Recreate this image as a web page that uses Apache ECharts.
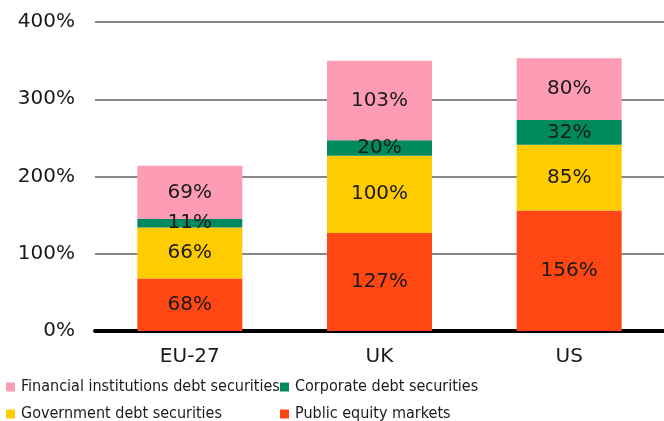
<!DOCTYPE html>
<html>
<head>
<meta charset="utf-8">
<script src="https://cdn.jsdelivr.net/npm/echarts@6/dist/echarts.min.js"></script>
<style>
  html, body { margin: 0; padding: 0; background: #fff; }
  #chart { width: 664px; height: 421px; }
</style>
</head>
<body>
<div id="chart"></div>
<script>
// data
const regions = ['EU-27', 'UK', 'US']
const publicEquity = [68, 127, 156]
const governmentDebt = [66, 100, 85]
const corporateDebt = [11, 20, 32]
const financialDebt = [69, 103, 80]
const yTicks = [0, 100, 200, 300, 400]

const numFont = '"DejaVu Sans", sans-serif'
const legendFont = '"DejaVu Sans Condensed", "DejaVu Sans", sans-serif'

const chart = echarts.init(document.getElementById('chart'))

const mkSeries = (name, data, color) => ({
  name: name,
  type: 'bar',
  stack: 'total',
  data: data,
  barWidth: 105,
  itemStyle: { color: color },
  label: {
    show: true,
    position: 'inside',
    formatter: '{c}%',
    color: '#1a1a1a',
    fontSize: 20,
    fontFamily: numFont
  }
})

const mkLegend = (name, left, top) => ({
  data: [name],
  left: left,
  top: top,
  itemWidth: 9,
  itemHeight: 9,
  itemGap: 0,
  icon: 'rect',
  textStyle: { fontSize: 16, color: '#1a1a1a', fontFamily: legendFont, padding: [0, 0, 0, 1] },
  selectedMode: false
})

const option = {
  animation: false,
  grid: { left: 95, right: -1, top: 22, bottom: 90 },
  legend: [
    mkLegend('Financial institutions debt securities', 1, 374),
    mkLegend('Corporate debt securities', 275, 374),
    mkLegend('Government debt securities', 1, 401),
    mkLegend('Public equity markets', 275, 401)
  ],
  xAxis: {
    type: 'category',
    data: regions,
    axisLine: { lineStyle: { color: '#000', width: 4 } },
    axisTick: { show: false },
    axisLabel: { fontSize: 20, color: '#1a1a1a', fontFamily: numFont, margin: 16 }
  },
  yAxis: {
    type: 'value',
    min: yTicks[0],
    max: yTicks[yTicks.length - 1],
    interval: 100,
    axisLine: { show: false },
    axisTick: { show: false },
    splitLine: { lineStyle: { color: '#888', width: 2 } },
    axisLabel: {
      fontSize: 20,
      color: '#1a1a1a',
      fontFamily: numFont,
      margin: 20,
      formatter: '{value}%'
    }
  },
  series: [
    mkSeries('Public equity markets', publicEquity, '#FF4713'),
    mkSeries('Government debt securities', governmentDebt, '#FFCC00'),
    mkSeries('Corporate debt securities', corporateDebt, '#008A5E'),
    mkSeries('Financial institutions debt securities', financialDebt, '#FF9CB5')
  ]
}

chart.setOption(option)
</script>
</body>
</html>
